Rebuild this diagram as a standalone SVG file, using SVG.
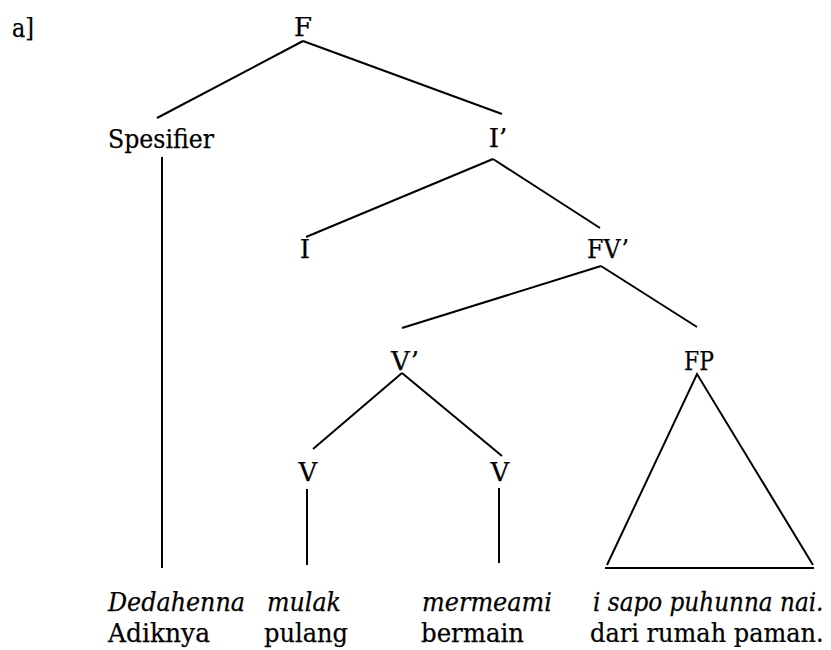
<svg xmlns="http://www.w3.org/2000/svg" width="831" height="650" viewBox="0 0 831 650">
  <style>
    text { font-family: "DejaVu Serif", "Liberation Serif", serif; font-size: 26px; fill: #000; stroke: #000; stroke-width: 0.25; }
    .lbl { text-anchor: middle; }
    .it { font-style: italic; }
    .edge { stroke: #000; stroke-width: 2; fill: none; stroke-linecap: butt; }
  </style>
  <rect width="831" height="650" fill="#fff"/>

  <text x="12" y="37" textLength="22" lengthAdjust="spacingAndGlyphs" font-size="28">a]</text>

  <!-- tree nodes -->
  <g id="node-F"><text class="lbl" x="303" y="36">F</text></g>
  <g id="node-spesifier"><text x="108" y="148" textLength="106" lengthAdjust="spacingAndGlyphs">Spesifier</text></g>
  <g id="node-Ibar"><text class="lbl" x="498" y="147">I’</text></g>
  <g id="node-I"><text class="lbl" x="305" y="258">I</text></g>
  <g id="node-FVbar"><text class="lbl" x="608" y="258" textLength="42" lengthAdjust="spacingAndGlyphs">FV’</text></g>
  <g id="node-Vbar"><text class="lbl" x="405" y="370">V’</text></g>
  <g id="node-FP"><text class="lbl" x="699" y="370" textLength="30" lengthAdjust="spacingAndGlyphs">FP</text></g>
  <g id="node-V1"><text class="lbl" x="308" y="481">V</text></g>
  <g id="node-V2"><text class="lbl" x="500" y="481">V</text></g>

  <!-- branches -->
  <g id="connectors">
    <line class="edge" x1="303" y1="41" x2="157" y2="118"/>
    <line class="edge" x1="303" y1="41" x2="502" y2="114"/>
    <line class="edge" x1="162" y1="157" x2="162" y2="568"/>
    <line class="edge" x1="493" y1="159" x2="306" y2="237"/>
    <line class="edge" x1="493" y1="159" x2="600" y2="228"/>
    <line class="edge" x1="601" y1="266" x2="402" y2="328"/>
    <line class="edge" x1="601" y1="266" x2="697" y2="327"/>
    <line class="edge" x1="402" y1="373" x2="313" y2="449"/>
    <line class="edge" x1="402" y1="373" x2="502" y2="456"/>
    <line class="edge" x1="307" y1="489" x2="307" y2="565"/>
    <line class="edge" x1="499" y1="488" x2="499" y2="563"/>
    <!-- FP triangle -->
    <polyline class="edge" points="607,565 697,374 813,565"/>
    <line class="edge" x1="605" y1="568" x2="814" y2="568" stroke-width="2.4"/>
  </g>

  <!-- leaves: gloss lines -->
  <g id="words">
    <text class="it" x="108" y="611" textLength="137" lengthAdjust="spacingAndGlyphs">Dedahenna</text>
    <text class="it" x="267" y="611" textLength="74" lengthAdjust="spacingAndGlyphs">mulak</text>
    <text class="it" x="422" y="611" textLength="130" lengthAdjust="spacingAndGlyphs">mermeami</text>
    <text class="it" transform="translate(593 611) scale(0.89 1)">i sapo puhunna nai.</text>
    <text x="108" y="642" textLength="102" lengthAdjust="spacingAndGlyphs">Adiknya</text>
    <text x="264" y="642" textLength="84" lengthAdjust="spacingAndGlyphs">pulang</text>
    <text x="421" y="642" textLength="103" lengthAdjust="spacingAndGlyphs">bermain</text>
    <text transform="translate(590 642) scale(0.925 1)">dari rumah paman.</text>
  </g>
</svg>
